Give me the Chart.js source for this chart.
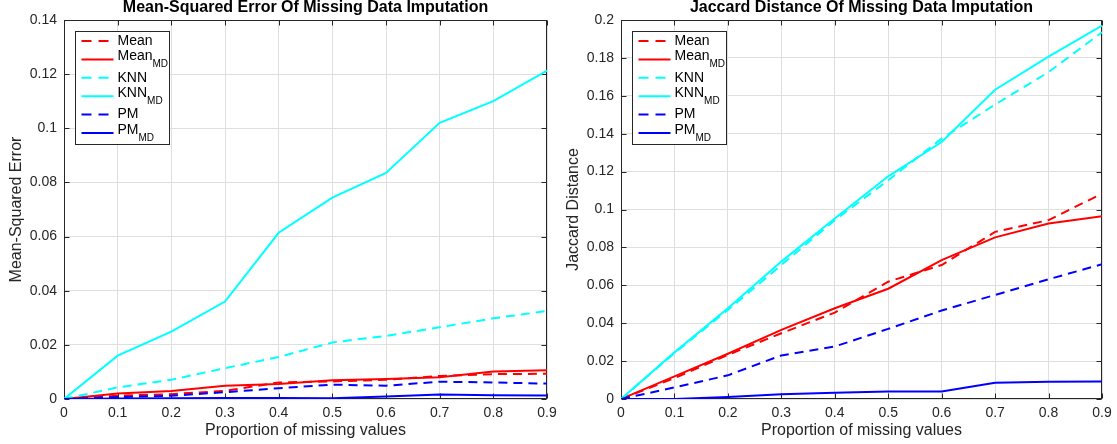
<!DOCTYPE html>
<html>
<head>
<meta charset="utf-8">
<script src="https://cdn.jsdelivr.net/npm/chart.js@4.4.1/dist/chart.umd.min.js"></script>
<style>
html, body { margin: 0; padding: 0; background: #fff; }
#wrap { position: relative; width: 1117px; height: 444px; overflow: hidden; }
.panel { position: absolute; top: 0; height: 444px; }
#left { left: 0; width: 557px; }
#right { left: 557px; width: 560px; }
</style>
</head>
<body>
<div id="wrap">
    <div class="panel" id="left"><canvas id="mseChart"></canvas></div>
    <div class="panel" id="right"><canvas id="jacChart"></canvas></div>
</div>
<script>
// proportion of missing values (x axis)
const proportions = [0, 0.1, 0.2, 0.3, 0.4, 0.5, 0.6, 0.7, 0.8, 0.9];

// mean-squared error
const mseMean   = [0, 0.0012, 0.0018, 0.0030, 0.0061, 0.0065, 0.0071, 0.0085, 0.0092, 0.0093];
const mseMeanMD = [0, 0.0020, 0.0030, 0.0049, 0.0055, 0.0069, 0.0074, 0.0080, 0.0102, 0.0106];
const mseKnn    = [0, 0.0043, 0.0071, 0.0114, 0.0155, 0.0209, 0.0233, 0.0265, 0.0298, 0.0325];
const mseKnnMD  = [0, 0.0160, 0.0249, 0.0360, 0.0614, 0.0744, 0.0835, 0.1020, 0.1100, 0.1213];
const msePm     = [0, 0.0007, 0.0012, 0.0025, 0.0040, 0.0053, 0.0049, 0.0064, 0.0061, 0.0057];
const msePmMD   = [0, 0.0002, 0.0003, 0.0004, 0.0004, 0.0003, 0.0009, 0.0017, 0.0014, 0.0013];

// jaccard distance
const jacMean   = [0, 0.0110, 0.0233, 0.0347, 0.0456, 0.0619, 0.0707, 0.0882, 0.0944, 0.1084];
const jacMeanMD = [0, 0.0119, 0.0239, 0.0365, 0.0479, 0.0582, 0.0733, 0.0853, 0.0926, 0.0965];
const jacKnn    = [0, 0.0242, 0.0470, 0.0707, 0.0944, 0.1154, 0.1374, 0.1554, 0.1725, 0.1935];
const jacKnnMD  = [0, 0.0246, 0.0479, 0.0725, 0.0953, 0.1175, 0.1356, 0.1632, 0.1807, 0.1970];
const jacPm     = [0, 0.0061, 0.0125, 0.0230, 0.0277, 0.0370, 0.0467, 0.0549, 0.0632, 0.0711];
const jacPmMD   = [0, 0.0000, 0.0010, 0.0025, 0.0033, 0.0039, 0.0039, 0.0086, 0.0091, 0.0093];

// tick values
const xTicks   = [0, 0.1, 0.2, 0.3, 0.4, 0.5, 0.6, 0.7, 0.8, 0.9];
const mseTicks = [0, 0.02, 0.04, 0.06, 0.08, 0.1, 0.12, 0.14];
const jacTicks = [0, 0.02, 0.04, 0.06, 0.08, 0.1, 0.12, 0.14, 0.16, 0.18, 0.2];

// legend names
const seriesNames = ['Mean', 'Mean', 'KNN', 'KNN', 'PM', 'PM'];
const seriesSubs  = ['', 'MD', '', 'MD', '', 'MD'];

const colors = ['#ff0000', '#ff0000', '#00ffff', '#00ffff', '#0000ff', '#0000ff'];
const dashed = [true, false, true, false, true, false];
const DASH = [9, 6];
const AXIS = '#262626';
const GRID = '#dfdfdf';

Chart.defaults.font.family = '"Liberation Sans", Arial, Helvetica, sans-serif';
Chart.defaults.color = AXIS;

function fmt(v) {
    return String(parseFloat(Number(v).toFixed(4)));
}

// box + inward ticks + matlab style legend
const matlabFrame = {
    id: 'matlabFrame',
    beforeDatasetsDraw(chart) {
        const ctx = chart.ctx;
        const a = chart.chartArea;
        const xs = chart.scales.x, ys = chart.scales.y;
        const L = Math.round(a.left) + 0.5, R = Math.round(a.right) - 0.5;
        const T = Math.round(a.top) + 0.5, B = Math.round(a.bottom) - 0.5;
        ctx.save();
        ctx.strokeStyle = AXIS;
        ctx.lineWidth = 1;
        ctx.strokeRect(L, T, R - L, B - T);
        ctx.beginPath();
        xTicks.forEach(v => {
            const px = Math.round(xs.getPixelForValue(v)) + 0.5;
            ctx.moveTo(px, B); ctx.lineTo(px, B - 5);
            ctx.moveTo(px, T); ctx.lineTo(px, T + 5);
        });
        ys.ticks.forEach(t => {
            const py = Math.round(ys.getPixelForValue(t.value)) + 0.5;
            ctx.moveTo(L, py); ctx.lineTo(L + 5, py);
            ctx.moveTo(R, py); ctx.lineTo(R - 5, py);
        });
        ctx.stroke();
        ctx.restore();
    },
    afterDatasetsDraw(chart) {
        const ctx = chart.ctx;
        const a = chart.chartArea;
        const bx = Math.round(a.left) + 11.5, by = Math.round(a.top) + 11.5;
        const bw = 94, bh = 113;
        ctx.save();
        ctx.fillStyle = '#fff';
        ctx.fillRect(bx, by, bw, bh);
        ctx.strokeStyle = AXIS;
        ctx.lineWidth = 1;
        ctx.strokeRect(bx, by, bw, bh);
        seriesNames.forEach((name, i) => {
            const ry = by + 9.5 + i * 18.4;
            ctx.beginPath();
            ctx.setLineDash(dashed[i] ? [10, 7] : []);
            ctx.strokeStyle = colors[i];
            ctx.lineWidth = 2;
            ctx.moveTo(bx + 6, ry);
            ctx.lineTo(bx + 38, ry);
            ctx.stroke();
            ctx.setLineDash([]);
            ctx.fillStyle = '#000';
            ctx.textBaseline = 'middle';
            ctx.textAlign = 'left';
            ctx.font = '14px "Liberation Sans", Arial, sans-serif';
            const sub = seriesSubs[i];
            const ty = sub ? ry - 3 : ry;
            ctx.fillText(name, bx + 42, ty);
            if (sub) {
                const w = ctx.measureText(name).width;
                ctx.font = '10px "Liberation Sans", Arial, sans-serif';
                ctx.fillText(sub, bx + 42 + w, ry + 5);
            }
        });
        ctx.restore();
    }
};

function makeChart(canvasId, titleText, yTitle, series, yTicks, padRight) {
    const datasets = series.map((arr, i) => ({
        label: seriesNames[i] + seriesSubs[i],
        data: proportions.map((x, j) => ({ x: x, y: arr[j] })),
        borderColor: colors[i],
        backgroundColor: colors[i],
        borderWidth: 2,
        borderDash: dashed[i] ? DASH : [],
        pointRadius: 0,
        tension: 0,
        fill: false,
        order: 6 - i
    }));

    return new Chart(document.getElementById(canvasId), {
        type: 'line',
        data: { datasets: datasets },
        options: {
            responsive: true,
            maintainAspectRatio: false,
            animation: false,
            layout: { padding: { left: 0, right: padRight, top: 0, bottom: 0 } },
            plugins: {
                legend: { display: false },
                tooltip: { enabled: false },
                title: {
                    display: true,
                    text: titleText,
                    fullSize: false,
                    color: '#000',
                    font: { size: 16, weight: 'bold' },
                    padding: { top: -2.5, bottom: 3.3 }
                }
            },
            scales: {
                x: {
                    type: 'linear',
                    min: 0,
                    max: 0.9,
                    afterBuildTicks: s => { s.ticks = xTicks.map(v => ({ value: v })); },
                    afterFit: s => { s.height = 45; s.paddingLeft = 0; s.paddingRight = 0; },
                    grid: { color: GRID, drawTicks: false },
                    border: { display: false },
                    ticks: {
                        padding: 6,
                        color: AXIS,
                        font: { size: 14 },
                        maxRotation: 0,
                        autoSkip: false,
                        callback: v => fmt(v)
                    },
                    title: {
                        display: true,
                        text: 'Proportion of missing values',
                        color: AXIS,
                        font: { size: 16 },
                        padding: { top: 0, bottom: 4 }
                    }
                },
                y: {
                    type: 'linear',
                    min: 0,
                    max: yTicks[yTicks.length - 1],
                    afterBuildTicks: s => { s.ticks = yTicks.map(v => ({ value: v })); },
                    afterFit: s => { s.width = 64; },
                    grid: { color: GRID, drawTicks: false },
                    border: { display: false },
                    ticks: {
                        padding: 7,
                        color: AXIS,
                        font: { size: 14 },
                        callback: v => fmt(v)
                    },
                    title: {
                        display: true,
                        text: yTitle,
                        color: AXIS,
                        font: { size: 16 },
                        padding: { top: 7.4, bottom: 0 }
                    }
                }
            }
        },
        plugins: [matlabFrame]
    });
}

makeChart('mseChart', 'Mean-Squared Error Of Missing Data Imputation', 'Mean-Squared Error',
    [mseMean, mseMeanMD, mseKnn, mseKnnMD, msePm, msePmMD], mseTicks, 10);

makeChart('jacChart', 'Jaccard Distance Of Missing Data Imputation', 'Jaccard Distance',
    [jacMean, jacMeanMD, jacKnn, jacKnnMD, jacPm, jacPmMD], jacTicks, 15);
</script>
</body>
</html>
